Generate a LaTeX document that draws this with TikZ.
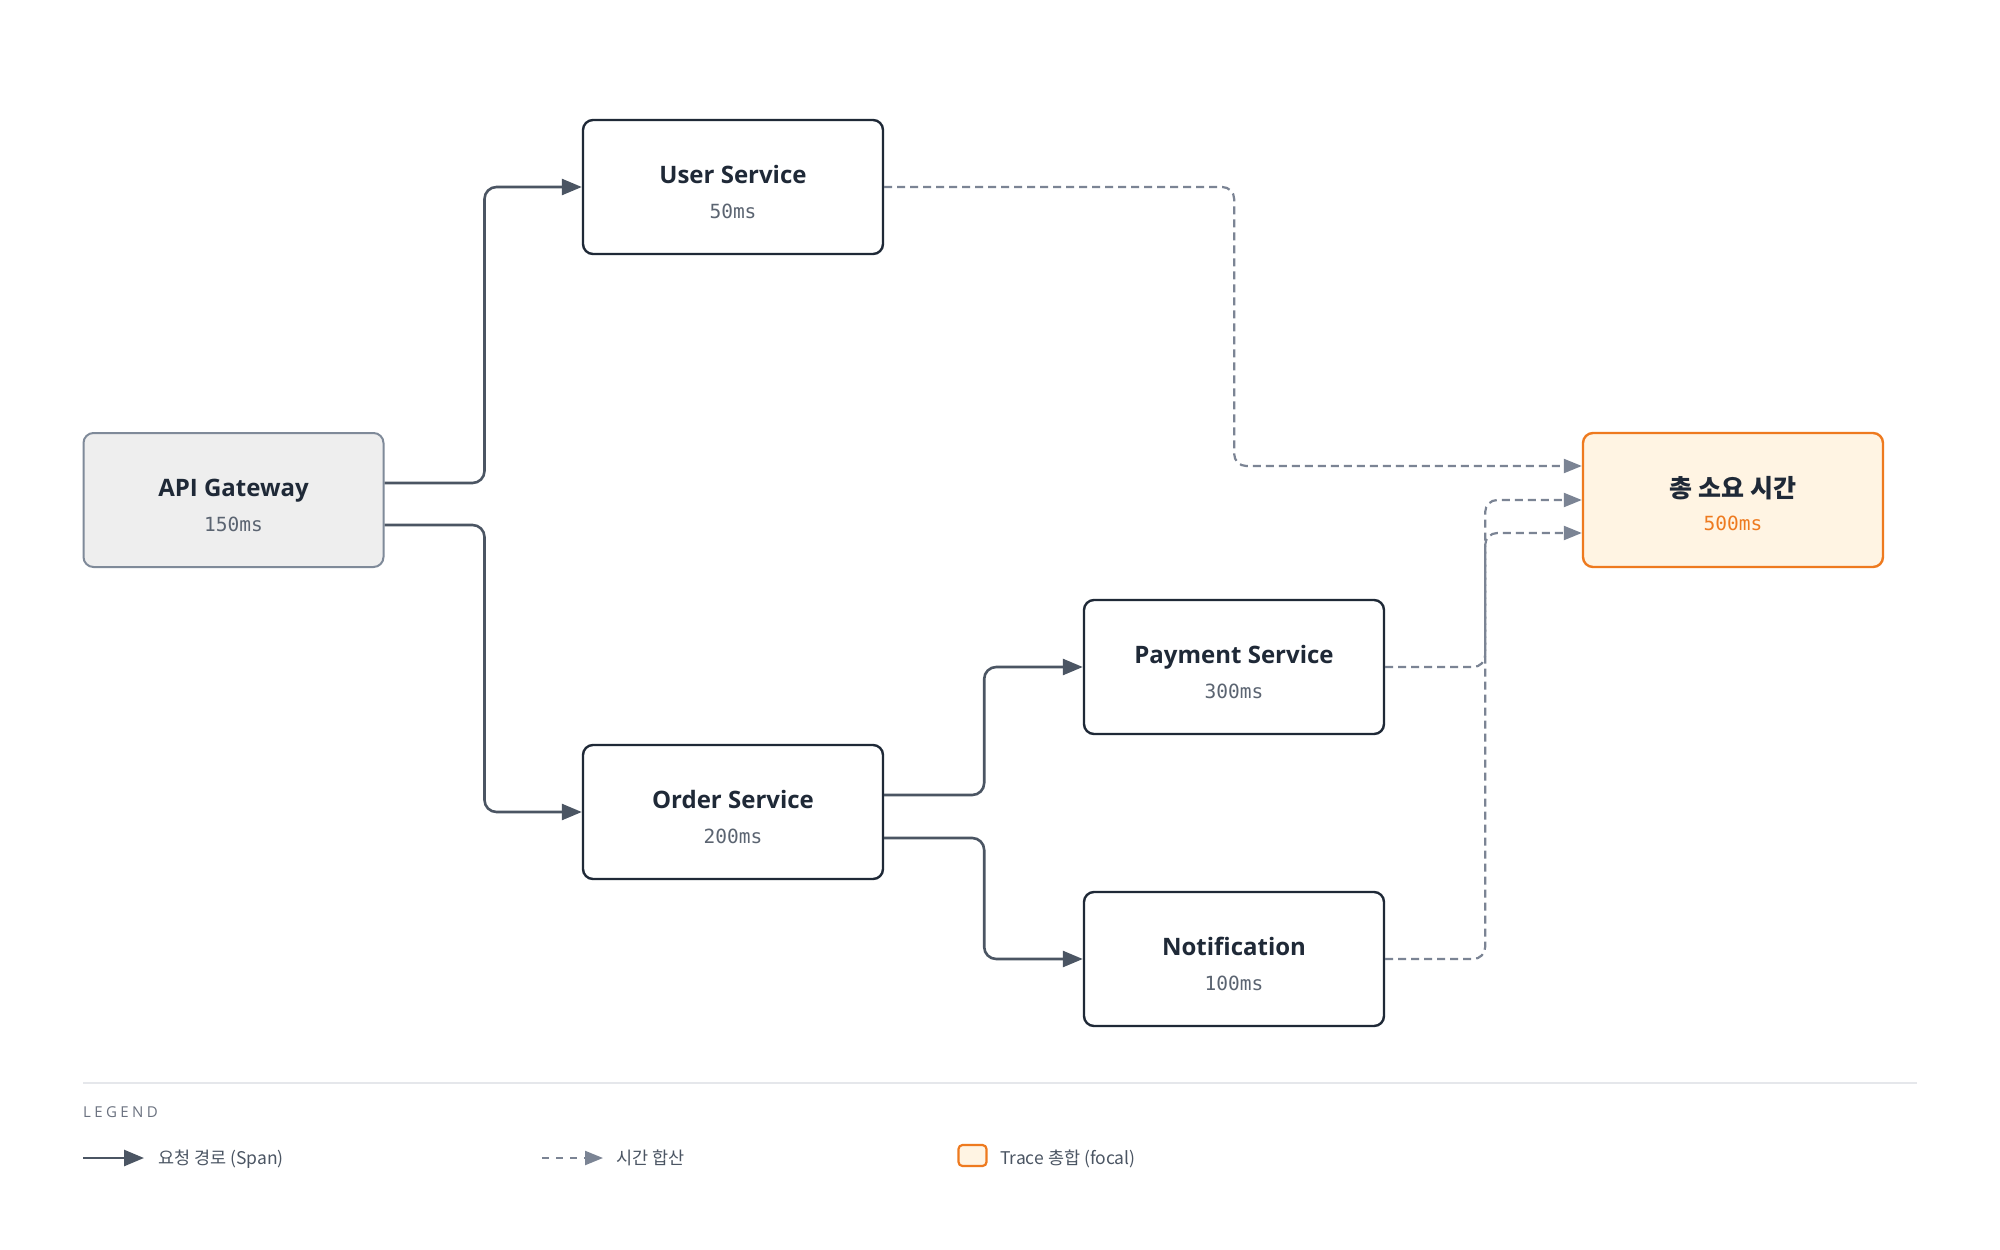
\documentclass[tikz,border=0pt]{standalone}
\usepackage{fontspec}
\setmainfont{Open Sans}
\newfontfamily\cjkfont{Noto Sans CJK KR}
\newfontfamily\monofont{DejaVu Sans Mono}
\usetikzlibrary{arrows.meta,calc}
\definecolor{ink}{HTML}{1F2937}
\definecolor{spanc}{HTML}{4B5563}
\definecolor{dashc}{HTML}{7B8494}
\definecolor{gatefill}{HTML}{EEEEEE}
\definecolor{gateline}{HTML}{7F8A99}
\definecolor{totfill}{HTML}{FFF4E3}
\definecolor{orangec}{HTML}{EE7A1F}
\definecolor{msc}{HTML}{5B6471}
\definecolor{leggray}{HTML}{6B7280}
\definecolor{sepc}{HTML}{E5E7EB}
\tikzset{
  svcbox/.style={draw=ink, line width=2.4pt, fill=white, rounded corners=10pt,
    minimum width=300pt, minimum height=134pt, inner sep=0pt},
  gatebox/.style={svcbox, draw=gateline, fill=gatefill, line width=2pt},
  totbox/.style={svcbox, draw=orangec, fill=totfill},
  ttl/.style={anchor=base, inner sep=0pt, text=ink, font=\bfseries\fontsize{24}{28}\selectfont},
  kttl/.style={anchor=base, inner sep=0pt, text=ink, font=\cjkfont\bfseries\fontsize{25}{28}\selectfont},
  ms/.style={anchor=base, inner sep=0pt, text=msc, font=\monofont\fontsize{19.5}{22}\selectfont},
  spanline/.style={draw=spanc, line width=2.6pt, rounded corners=12pt,
    -{Triangle[length=20pt,width=16pt]}},
  sumline/.style={draw=dashc, line width=2.2pt, rounded corners=12pt,
    dash pattern=on 8pt off 5pt, -{Triangle[length=18pt,width=14pt]}},
  legtxt/.style={anchor=base west, inner sep=0pt, text=spanc, font=\cjkfont\fontsize{17.5}{20}\selectfont},
}
\begin{document}
\begin{tikzpicture}[x=1pt,y=-1pt]
\fill[white] (0,0) rectangle (2000,1250);
\useasboundingbox (0,0) rectangle (2000,1250);

% boxes
\node[gatebox] (api) at (233.5,500) {};
\node[svcbox] (user) at (733,187) {};
\node[svcbox] (order) at (733,812) {};
\node[svcbox] (pay) at (1234,667) {};
\node[svcbox] (notif) at (1234,959) {};
\node[totbox] (tot) at (1733,500) {};

% texts
\node[ttl] (apiT) at (233.5,496) {API Gateway};
\node[ms] (apiM) at (233.5,531.5) {150ms};
\node[ttl] (userT) at (733,183) {User Service};
\node[ms] (userM) at (733,218.5) {50ms};
\node[ttl] (orderT) at (733,808) {Order Service};
\node[ms] (orderM) at (733,843.5) {200ms};
\node[ttl] (payT) at (1234,663) {Payment Service};
\node[ms] (payM) at (1234,698.5) {300ms};
\node[ttl] (notifT) at (1234,955) {Notification};
\node[ms] (notifM) at (1234,990.5) {100ms};
\node[kttl] (totT) at (1733,497) {총 소요 시간};
\node[ms, text=orangec] (totM) at (1733,530) {500ms};

% span connectors
\draw[spanline] ($(api.east)+(0,-17)$) -- ++(100,0) |- (user.west);
\draw[spanline] ($(api.east)+(0,25)$) -- ++(100,0) |- (order.west);
\draw[spanline] ($(order.east)+(0,-17)$) -- ++(100,0) |- (pay.west);
\draw[spanline] ($(order.east)+(0,26)$) -- ++(100,0) |- (notif.west);

% summation connectors
\draw[sumline] (user.east) -- ++(350,0) |- ($(tot.west)+(0,-34)$);
\draw[sumline] (pay.east) -- ++(100,0) |- (tot.west);
\draw[sumline] (notif.east) -- ++(100,0) |- ($(tot.west)+(0,33)$);

% legend
\coordinate (sepA) at (83,1083);
\coordinate (sepB) at (1917,1083);
\draw[sepc, line width=1.5pt] (sepA) -- (sepB);
\node[anchor=base west, inner sep=0pt, text=leggray, font=\fontsize{15}{18}\selectfont] (legT) at (83,1117.5)
  {L\kern3.4pt E\kern3.4pt G\kern3.4pt E\kern3.4pt N\kern3.4pt D};

\coordinate (l1a) at (83,1158);
\coordinate (l1b) at (144,1158);
\draw[spanline] (l1a) -- (l1b);
\node[legtxt] (l1t) at (158,1164) {요청 경로 (Span)};

\coordinate (l2a) at (542,1158);
\coordinate (l2b) at (603,1158);
\draw[sumline, dash pattern=on 7pt off 7pt] (l2a) -- (l2b);
\node[legtxt] (l2t) at (616,1164) {시간 합산};

\node[draw=orangec, fill=totfill, line width=2.2pt, rounded corners=4pt,
  minimum width=28pt, minimum height=21pt, inner sep=0pt] (l3b) at (972.5,1155.5) {};
\node[legtxt] (l3t) at (1000,1164) {Trace 총합 (focal)};
\end{tikzpicture}
\end{document}
